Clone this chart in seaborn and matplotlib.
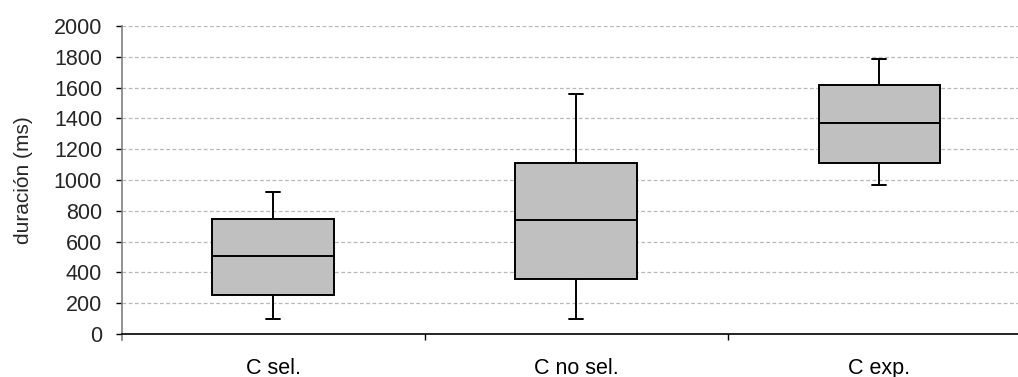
import pandas as pd
import matplotlib
matplotlib.use('Agg')
import matplotlib.pyplot as plt
import seaborn as sns

categories = ['C sel.', 'C no sel.', 'C exp.']
# five-number summaries: min, q1, median, q3, max
c_sel = [100, 255, 505, 750, 920]
c_no_sel = [100, 360, 740, 1110, 1560]
c_exp = [965, 1110, 1368, 1615, 1785]
y_ticks = [0, 200, 400, 600, 800, 1000, 1200, 1400, 1600, 1800, 2000]

df = pd.DataFrame({
    'grupo': [categories[0]] * len(c_sel) + [categories[1]] * len(c_no_sel) + [categories[2]] * len(c_exp),
    'duracion': c_sel + c_no_sel + c_exp,
})

sns.set_theme(style='white')
plt.rcParams['font.family'] = ['Liberation Sans', 'DejaVu Sans']

fig = plt.figure(figsize=(10.18, 3.77), dpi=100)
ax = fig.add_axes([0.1194, 0.114, 0.893, 0.817])

sns.boxplot(data=df, x='grupo', y='duracion', order=categories, ax=ax,
            color='#c0c0c0', saturation=1, linecolor='black', linewidth=1.4,
            width=0.4, whis=(0, 100), showfliers=False)

# narrow whisker caps like the original
for ln in ax.lines:
    xd = ln.get_xdata()
    yd = ln.get_ydata()
    if len(xd) == 2 and yd[0] == yd[1] and abs(xd[1] - xd[0]) > 0.15 and abs(xd[1] - xd[0]) < 0.25:
        c = (xd[0] + xd[1]) / 2
        ln.set_xdata([c - 0.022, c + 0.022])

ax.set_xlim(-0.5, 2.5)
ax.set_ylim(0, 2000)
ax.set_yticks(y_ticks)
ax.set_yticklabels([str(v) for v in y_ticks], fontsize=15.5)
ax.set_xticks([0, 1, 2])
ax.set_xticklabels(categories, fontsize=15.5)
ax.set_xticks([0.5, 1.5, 2.5], minor=True)
ax.tick_params(axis='x', which='major', length=0, pad=17, colors='black')
ax.tick_params(axis='x', which='minor', length=4, width=1, direction='out', color='black', bottom=True)
ax.tick_params(axis='y', which='major', length=4, width=1, direction='out', pad=10, color='black', left=True)

ax.set_xlabel('')
ax.set_ylabel('duración (ms)', fontsize=15, labelpad=15)

ax.yaxis.grid(True, linestyle=(0, (3, 2)), color='#b8b8b8', linewidth=0.9)
ax.set_axisbelow(True)

for s in ['top', 'right']:
    ax.spines[s].set_visible(False)
ax.spines['left'].set_color('#808080')
ax.spines['left'].set_linewidth(1.2)
ax.spines['left'].set_bounds(-2000 * 6 / 308, 2000)
ax.spines['bottom'].set_color('black')
ax.spines['bottom'].set_linewidth(1.2)

plt.savefig('out.png', dpi=100)
